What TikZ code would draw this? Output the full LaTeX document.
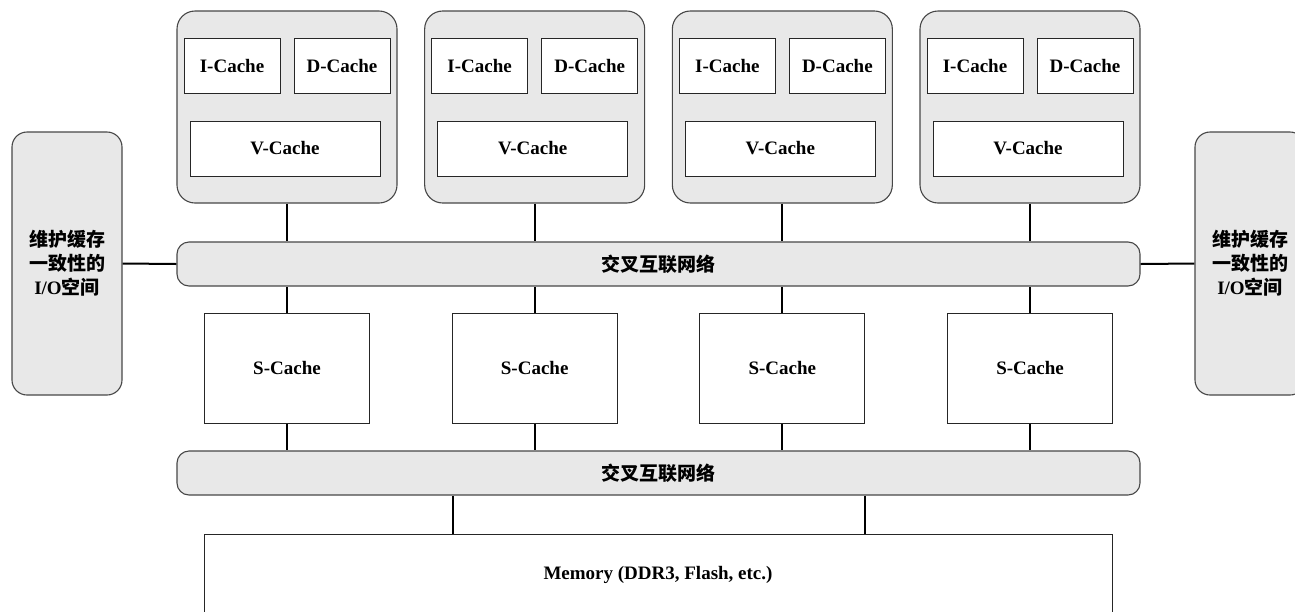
\documentclass[tikz,border=0pt]{standalone}
\usepackage{fontspec}
\setmainfont{Liberation Serif}
\newfontfamily\cjk{Noto Sans CJK SC}
\begin{document}
\begin{tikzpicture}[x=1pt,y=-1pt,
  txt/.style={font=\fontsize{19}{24}\selectfont\bfseries, align=center, inner sep=0pt},
  graybox/.style={txt, draw=black!72, fill=black!9, line width=1.1pt},
  corebox/.style={graybox, rounded corners=18pt, minimum width=220pt, minimum height=192pt},
  barbox/.style={graybox, rounded corners=12pt, minimum width=963pt, minimum height=44pt},
  iobox/.style={graybox, rounded corners=15pt, minimum width=110pt, minimum height=263pt},
  cachebox/.style={txt, draw=black!85, fill=white, line width=1pt},
  smallcache/.style={cachebox, minimum width=96pt, minimum height=55pt},
  vcache/.style={cachebox, minimum width=190pt, minimum height=55pt},
  scache/.style={cachebox, minimum width=165pt, minimum height=110pt},
  link/.style={draw=black, line width=2pt}
]
\useasboundingbox (0,0) rectangle (1295,611);

% crossbars
\node[barbox] (x1) at (658.5,264) {\cjk 交叉互联网络};
\node[barbox] (x2) at (658.5,473) {\cjk 交叉互联网络};

% I/O spaces
\node[iobox] (io1) at (67,263.5) {\cjk 维护缓存\\\cjk 一致性的\\I/O{\cjk 空间}};
\node[iobox] (io2) at (1250,263.5) {\cjk 维护缓存\\\cjk 一致性的\\I/O{\cjk 空间}};
\draw[link] (io1.east) -- (x1.west);
\draw[link] (x1.east) -- (io2.west);

% cores and S-caches
\foreach \i in {1,2,3,4}{
  \pgfmathsetmacro{\L}{177+247.67*(\i-1)}
  \node[corebox] (c\i) at (\L+110,107) {};
  \node[smallcache] (ic\i) at (\L+55,65.5) {I-Cache};
  \node[smallcache] (dc\i) at (\L+165,65.5) {D-Cache};
  \node[vcache] (vc\i) at (\L+108,148.5) {V-Cache};
  \node[scache] (s\i) at (\L+110,368) {S-Cache};
  \draw[link] (c\i.south) -- (c\i.south |- x1.north);
  \draw[link] (s\i.north) -- (s\i.north |- x1.south);
  \draw[link] (s\i.south) -- (s\i.south |- x2.north);
}

% memory
\node[cachebox, minimum width=908pt, minimum height=82pt] (mem) at (658,575) {Memory (DDR3, Flash, etc.)};
\coordinate (m1) at (452.5,534);
\coordinate (m2) at (865,534);
\draw[link] (m1 |- x2.south) -- (m1);
\draw[link] (m2 |- x2.south) -- (m2);
\end{tikzpicture}
\end{document}
